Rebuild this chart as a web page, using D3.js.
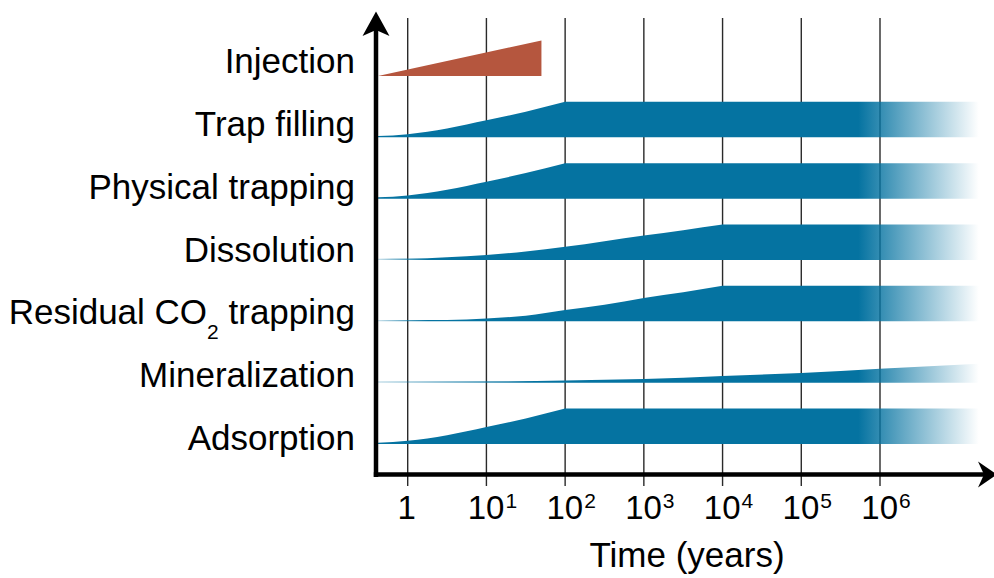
<!DOCTYPE html>
<html>
<head>
<meta charset="utf-8">
<script src="https://cdn.jsdelivr.net/npm/d3@7"></script>
<style>
  body { margin: 0; background: #fff; }
  svg { display: block; }
  text { font-family: "Liberation Sans", Arial, Helvetica, sans-serif; fill: #000; }
</style>
</head>
<body>
<div id="chart"></div>
<script>
// processes, top to bottom
const processes = ["Injection", "Trap filling", "Physical trapping", "Dissolution",
  "Residual CO2 trapping", "Mineralization", "Adsorption"];

// decade ticks on the time axis
const tickYears = [1, 10, 100, 1e3, 1e4, 1e5, 1e6];
const tickExp = ["", "1", "2", "3", "4", "5", "6"];

// [years, relative strength 0..1]
const injection = [[0.42, 0], [50, 1]];
const trapFilling = [[0.42, 0], [1, 0.09], [3.16, 0.25], [10, 0.48], [31.6, 0.72], [100, 1], [1.8e7, 1]];
const physicalTrapping = [[0.42, 0], [1, 0.09], [3.16, 0.25], [10, 0.48], [31.6, 0.72], [100, 1], [1.8e7, 1]];
const dissolution = [[0.42, 0], [1, 0.04], [3.16, 0.08], [10, 0.14], [31.6, 0.24], [100, 0.37],
  [316, 0.53], [1000, 0.69], [3160, 0.84], [1e4, 1], [1.8e7, 1]];
const residualTrapping = [[0.42, 0], [1, 0.02], [3.16, 0.04], [10, 0.08], [31.6, 0.16], [100, 0.32],
  [316, 0.47], [1000, 0.66], [3160, 0.82], [1e4, 1], [1.8e7, 1]];
const mineralization = [[0.42, 0], [1, 0.015], [10, 0.03], [100, 0.06], [1000, 0.1], [1e4, 0.19],
  [1e5, 0.27], [1e6, 0.39], [1.8e7, 0.53]];
const adsorption = [[0.42, 0], [1, 0.09], [3.16, 0.25], [10, 0.48], [31.6, 0.72], [100, 1], [1.8e7, 1]];

const series = [injection, trapFilling, physicalTrapping, dissolution, residualTrapping, mineralization, adsorption];

let width = 994, height = 578;
let axisX = 376, axisY = 474.5;
const blue = "#0573a1", red = "#b5563e";

// where the thin starts fade in (years), per process
const fadeIn = {"Dissolution": 1.8, "Residual CO2 trapping": 1.8, "Mineralization": 33};
const fadeOutStart = 5.3e5, fadeOutEnd = 1.8e7;

let svg = d3.select("#chart")
    .append("svg")
    .attr("width", width)
    .attr("height", height);

let x = d3.scaleLog().domain([1, 1e6]).range([407.7, 880]);
let labelRow = d3.scalePoint().domain(processes).range([73, 450]);
let bandRow = d3.scalePoint().domain(processes).range([76, 444]);
let h = d3.scaleLinear().domain([0, 1]).range([0, 35.5]);

// grid lines (run a little below the axis as ticks)
svg.append("g")
    .selectAll("line")
    .data(tickYears)
    .join("line")
    .attr("x1", d => x(d)).attr("x2", d => x(d))
    .attr("y1", 18).attr("y2", 486)
    .attr("stroke", "#2a2a2a")
    .attr("stroke-width", 1.4);

// gradients for the fading ends
let defs = svg.append("defs");
let x0 = x(0.42), x1 = x(fadeOutEnd);
let off = v => (x(v) - x0) / (x1 - x0);

processes.forEach((p, i) => {
  if (i === 0) return;
  let g = defs.append("linearGradient")
      .attr("id", "grad" + i)
      .attr("gradientUnits", "userSpaceOnUse")
      .attr("x1", x0).attr("x2", x1)
      .attr("y1", 0).attr("y2", 0);
  if (fadeIn[p]) {
    g.append("stop").attr("offset", 0).attr("stop-color", blue).attr("stop-opacity", 0.22);
    g.append("stop").attr("offset", off(fadeIn[p])).attr("stop-color", blue).attr("stop-opacity", 1);
  } else {
    g.append("stop").attr("offset", 0).attr("stop-color", blue).attr("stop-opacity", 1);
  }
  g.append("stop").attr("offset", off(fadeOutStart)).attr("stop-color", blue).attr("stop-opacity", 1);
  g.append("stop").attr("offset", off(fadeOutStart * 4)).attr("stop-color", blue).attr("stop-opacity", 0.6);
  g.append("stop").attr("offset", 1).attr("stop-color", blue).attr("stop-opacity", 0);
});

// bands: smooth rise, then a flat plateau with a sharp corner
let bands = svg.append("g");
series.forEach((s, i) => {
  let base = bandRow(processes[i]);
  let fill = i === 0 ? red : `url(#grad${i})`;
  let top = d => base - (i === 0 ? h(d[1]) : Math.max(h(d[1]), 1.3));

  let peak = s.findIndex(d => d[1] >= 1);
  let rising = (i === 0 || peak < 0) ? s : s.slice(0, peak + 1);

  let riseArea = d3.area()
      .curve(i === 0 ? d3.curveLinear : d3.curveMonotoneX)
      .x(d => x(d[0]))
      .y0(base)
      .y1(top);
  bands.append("path")
      .datum(rising)
      .attr("d", riseArea)
      .attr("fill", fill);

  if (i > 0 && peak >= 0) {
    let flat = s.slice(peak);
    let flatArea = d3.area()
        .x((d, j) => x(d[0]) - (j === 0 ? 0.6 : 0))
        .y0(base)
        .y1(top);
    bands.append("path")
        .datum(flat)
        .attr("d", flatArea)
        .attr("fill", fill);
  }
});

// row labels
let labels = svg.append("g")
    .attr("font-size", 35)
    .attr("text-anchor", "end");

processes.forEach(p => {
  let t = labels.append("text")
      .attr("x", 355)
      .attr("y", labelRow(p));
  if (p === "Residual CO2 trapping") {
    t.append("tspan").text("Residual CO");
    t.append("tspan").attr("font-size", 21).attr("dy", 15).text("2");
    t.append("tspan").attr("dy", -15).text(" trapping");
  } else {
    t.text(p);
  }
});

// tick labels
let ticks = svg.append("g")
    .attr("font-size", 33)
    .attr("text-anchor", "middle");

tickYears.forEach((d, i) => {
  let t = ticks.append("text")
      .attr("x", x(d) + (tickExp[i] ? 6 : -1))
      .attr("y", 519);
  if (tickExp[i]) {
    t.append("tspan").text("10");
    t.append("tspan").attr("font-size", 21).attr("dy", -11).attr("dx", 1).text(tickExp[i]);
  } else {
    t.text("1");
  }
});

svg.append("text")
    .attr("x", 687)
    .attr("y", 567)
    .attr("font-size", 35)
    .attr("text-anchor", "middle")
    .text("Time (years)");

// axes with arrow heads
svg.append("line")
    .attr("x1", axisX).attr("x2", axisX)
    .attr("y1", 28).attr("y2", axisY + 2.5)
    .attr("stroke", "#000").attr("stroke-width", 4.5);
svg.append("line")
    .attr("x1", axisX - 2.2).attr("x2", 984)
    .attr("y1", axisY).attr("y2", axisY)
    .attr("stroke", "#000").attr("stroke-width", 4.5);

svg.append("path")
    .attr("d", `M${axisX},11.5 L${axisX + 13.5},36 L${axisX},30 L${axisX - 13.5},36 Z`)
    .attr("fill", "#000");
svg.append("path")
    .attr("d", `M997,${axisY} L978,${axisY - 13} L984,${axisY} L978,${axisY + 13} Z`)
    .attr("fill", "#000");
</script>
</body>
</html>
